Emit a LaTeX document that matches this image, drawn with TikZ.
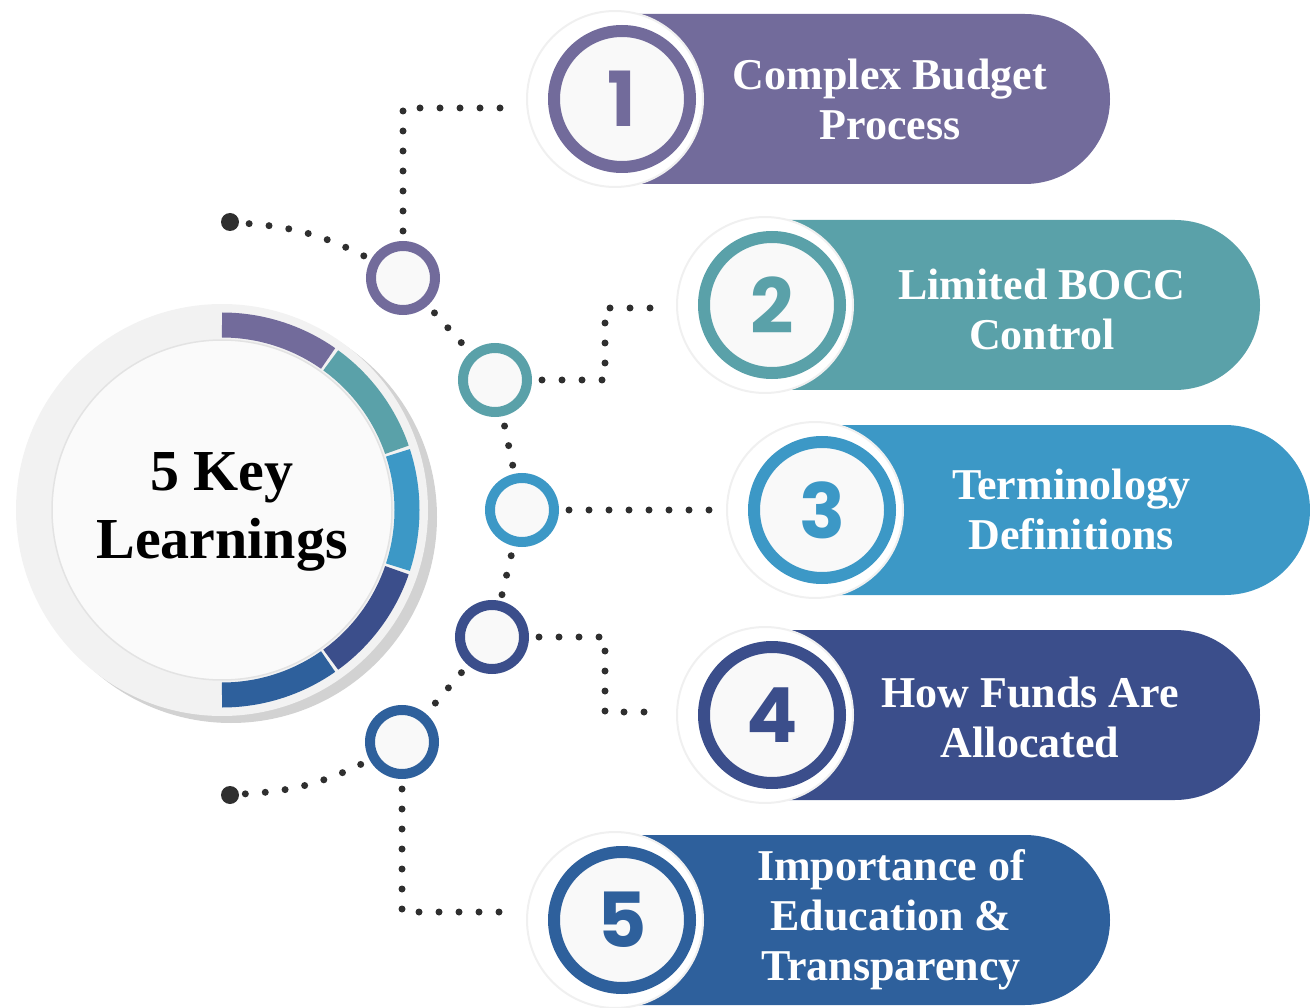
\documentclass[tikz,border=0pt]{standalone}
\usepackage{fontspec}
\setmainfont{Liberation Serif}
\newfontfamily\numfont{Poppins}
\usetikzlibrary{shapes.misc}
\definecolor{cpurple}{HTML}{726B9B}
\definecolor{cteal}{HTML}{5AA1A9}
\definecolor{cblue}{HTML}{3C98C6}
\definecolor{cnavy}{HTML}{3B4E8B}
\definecolor{cdeep}{HTML}{2E609C}
\definecolor{dotgray}{HTML}{2F2F2F}
\tikzset{disc/.style={circle,fill=gray!10,minimum size=412pt,inner sep=0pt},
         face/.style={circle,fill=white!96!gray,draw=gray!22,line width=1.5pt,minimum size=340pt,inner sep=0pt},
         pill/.style={rounded rectangle,rounded rectangle left arc=none,fill=#1,minimum height=170pt,minimum width=488pt,inner sep=0pt},
         halo/.style={circle,fill=white,draw=gray!12,line width=2pt,minimum size=176pt,inner sep=0pt},
         numring/.style={circle,draw=#1,line width=12pt,fill=white!95!gray,minimum size=136pt,inner sep=0pt,
                         text=#1,font=\numfont\bfseries\fontsize{76}{76}\selectfont},
         jring/.style={circle,draw=#1,line width=10pt,fill=white!95!gray,minimum size=64pt,inner sep=0pt},
         pilltext/.style={text=white,align=center,font=\bfseries\fontsize{44}{50}\selectfont},
         dotline/.style={draw=dotgray,line width=7pt,line cap=round,dash pattern=on 0pt off 20pt,dash phase=10pt},
         enddot/.style={circle,fill=dotgray,minimum size=18pt,inner sep=0pt},
        }

\begin{document}
\begin{tikzpicture}[x=1pt,y=-1pt]
        \useasboundingbox (0,0) rectangle (1310,1008);
        % centre disc
        \node[disc,fill=gray!35](shade)at(231,517){};
        \node[disc](disc)at(222,510){};
        \node[face](face)at(222,510){};
        \foreach \a/\b/\c in {-90/-55/cpurple,-54/-19/cteal,-18/18/cblue,19/54/cnavy,55/90/cdeep}
            \draw[\c,line width=25pt]([shift={(\a:185)}]disc.center) arc[start angle=\a,end angle=\b,radius=185];
        \node[align=center,font=\bfseries\fontsize{58}{68}\selectfont](title)at(222,512){5 Key\\Learnings};

        % bars
        \node[pill=cpurple](b1)at(866,99){};
        \node[halo](h1)at(615,99){};
        \node[numring=cpurple](n1)at(622,99){1};
        \node[pilltext](l1)at(890,99){Complex Budget\\Process};

        \node[pill=cteal](b2)at(1016,305){};
        \node[halo](h2)at(765,305){};
        \node[numring=cteal](n2)at(772,305){2};
        \node[pilltext](l2)at(1042,309){Limited BOCC\\Control};

        \node[pill=cblue](b3)at(1066,510){};
        \node[halo](h3)at(815,510){};
        \node[numring=cblue](n3)at(822,510){3};
        \node[pilltext](l3)at(1071,509){Terminology\\Definitions};

        \node[pill=cnavy](b4)at(1016,715){};
        \node[halo](h4)at(765,715){};
        \node[numring=cnavy](n4)at(772,715){4};
        \node[pilltext](l4)at(1030,717){How Funds Are\\Allocated};

        \node[pill=cdeep](b5)at(866,920){};
        \node[halo](h5)at(615,920){};
        \node[numring=cdeep](n5)at(622,920){5};
        \node[pilltext](l5)at(891,920){Importance of\\Education \&\\Transparency};

        % joints
        \node[jring=cpurple](j1)at(403,278){};
        \node[jring=cteal](j2)at(495,380){};
        \node[jring=cblue](j3)at(522,510){};
        \node[jring=cnavy](j4)at(492,637){};
        \node[jring=cdeep](j5)at(402,742){};
        \node[enddot](s1)at(230,222){};
        \node[enddot](s2)at(230,795){};
        \coordinate(e1)at(505,108);
        \coordinate(k2)at(605,308);
        \coordinate(e2)at(660,308);
        \coordinate(e3)at(712,510);
        \coordinate(k4)at(605,712);
        \coordinate(e4)at(660,712);
        \coordinate(e5)at(505,912);

        \draw[dotline](s1) to[bend left=12] (j1);
        \draw[dotline](j1)--(j2);
        \draw[dotline](j2)--(j3);
        \draw[dotline](j3)--(j4);
        \draw[dotline](j4)--(j5);
        \draw[dotline](j5) to[bend left=12] (s2);
        \draw[dotline](j1.north) |- (e1);
        \draw[dotline](j2.east) -| (k2) -- (e2);
        \draw[dotline](j3.east)--(e3);
        \draw[dotline](j4.east) -| (k4) -- (e4);
        \draw[dotline](j5.south) |- (e5);
\end{tikzpicture}
\end{document}
